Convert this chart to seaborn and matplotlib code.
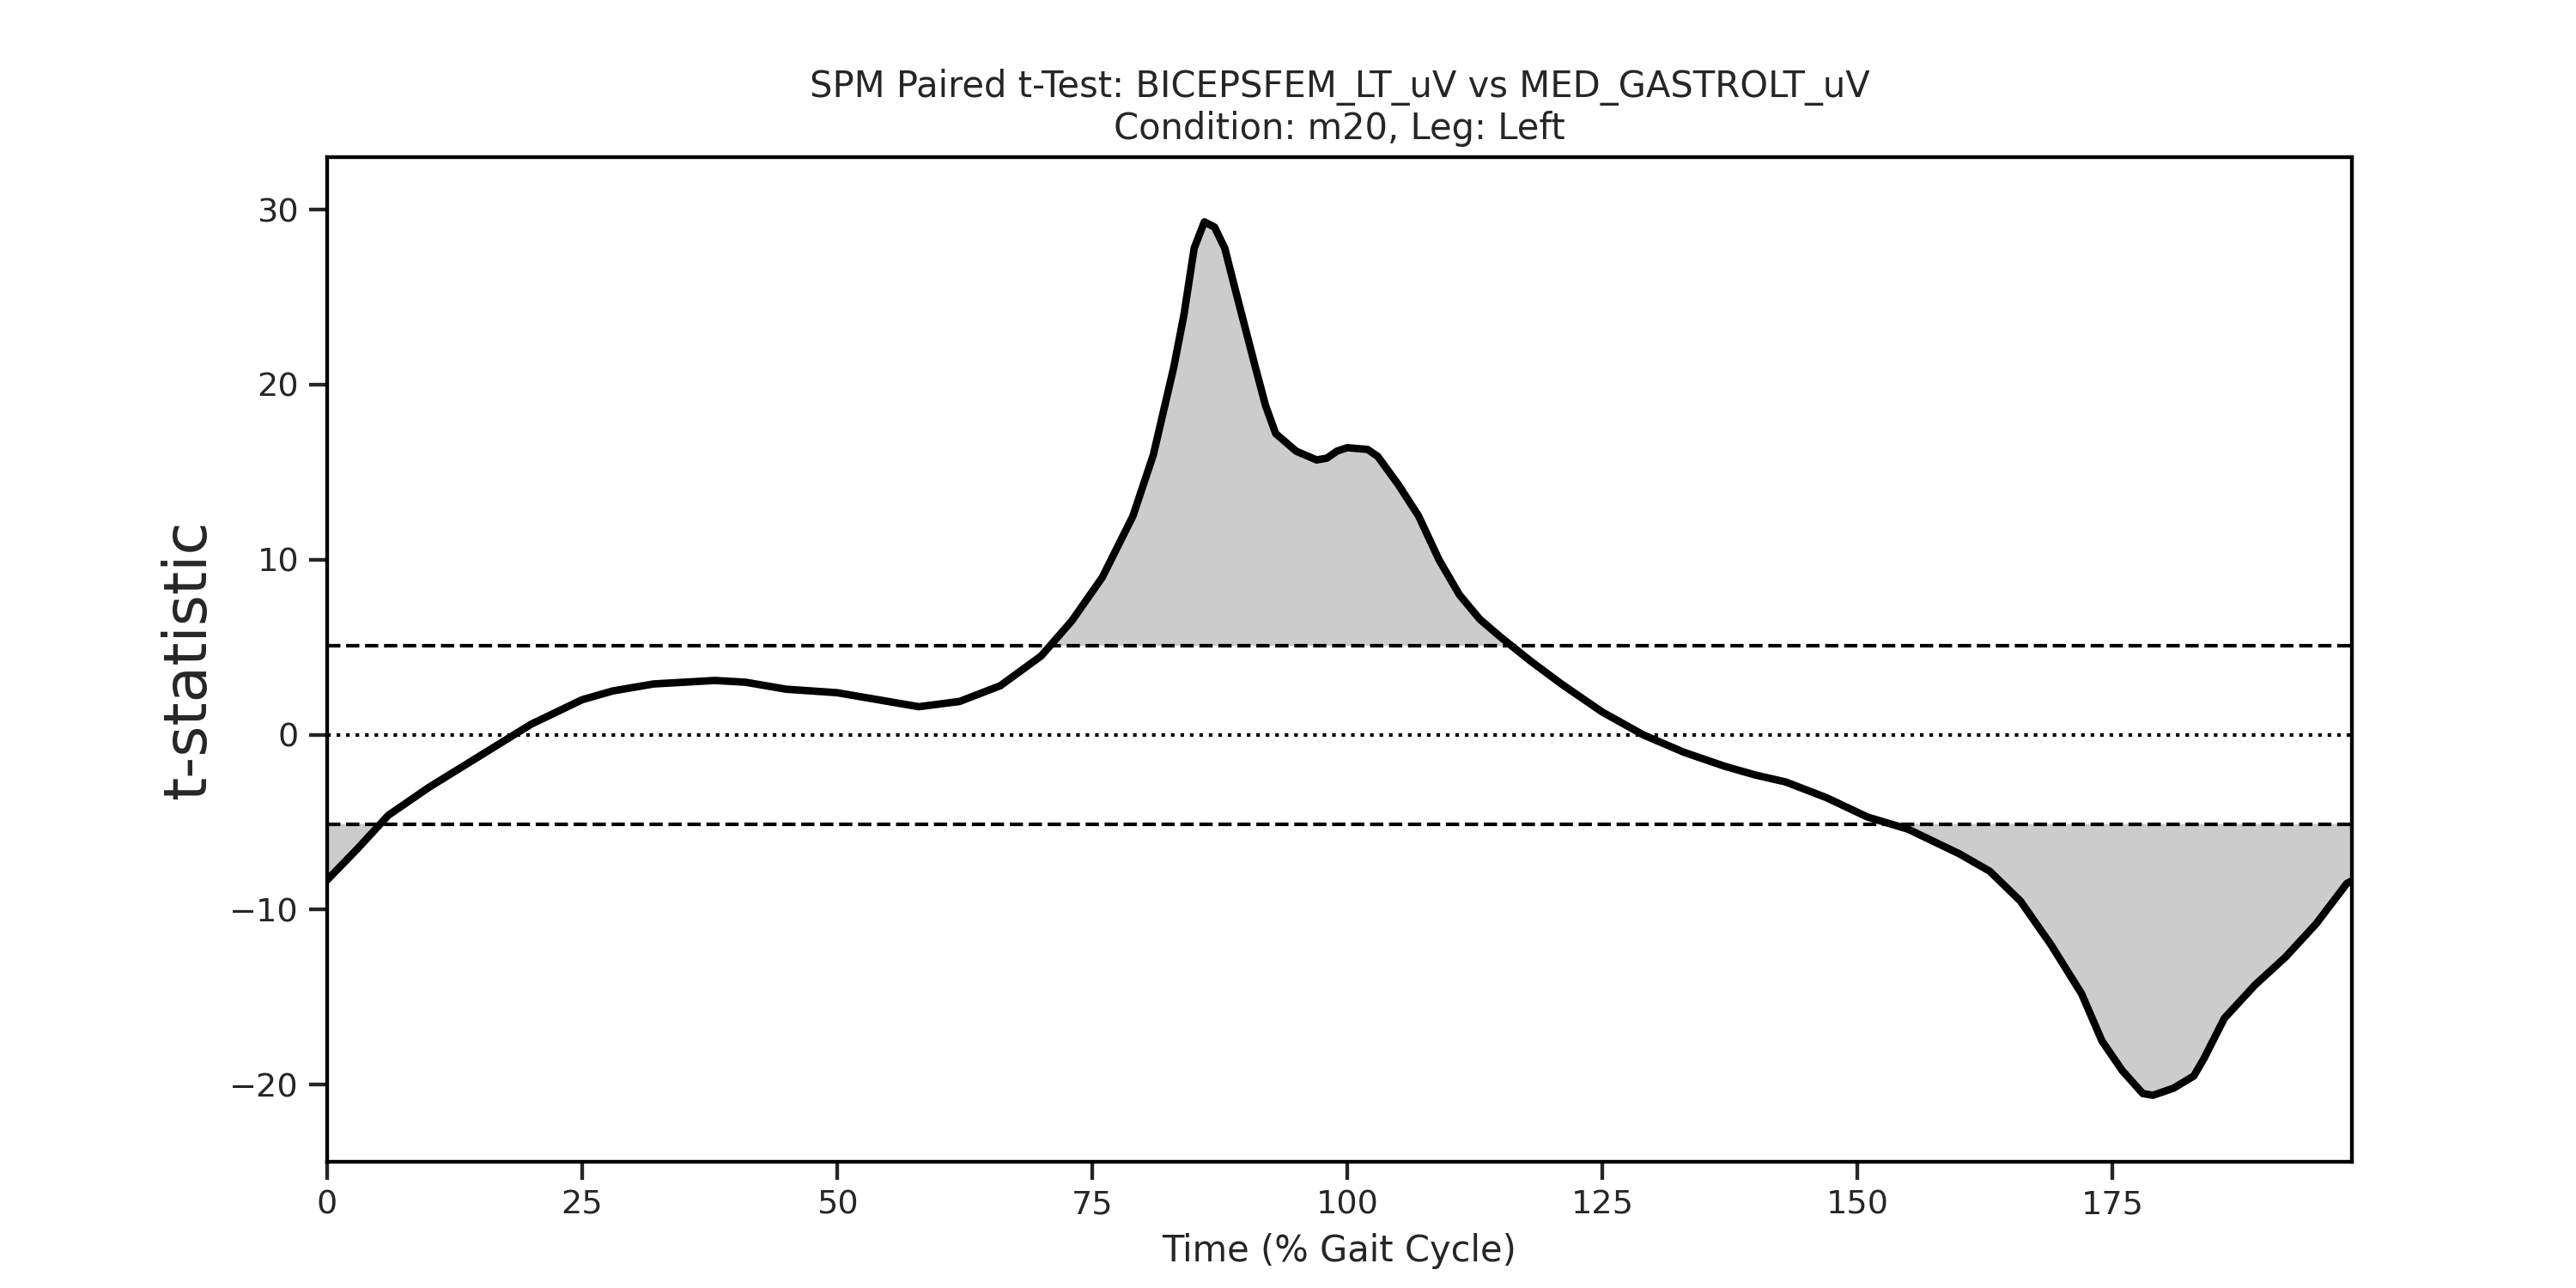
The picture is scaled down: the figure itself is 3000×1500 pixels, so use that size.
import numpy as np
import matplotlib.pyplot as plt
import seaborn as sns

# ── Données ──────────────────────────────────────────────────────────────────
time_pts = [0, 3, 6, 10, 15, 20, 25, 28, 32, 38, 41, 45, 50, 55, 58, 62, 66, 70,
            73, 76, 79, 81, 83, 84, 85, 86, 87, 88, 89, 91, 92, 93, 95, 97, 98,
            99, 100, 102, 103, 105, 107, 109, 111, 113, 115, 118, 121, 125, 129,
            133, 137, 140, 143, 147, 151, 155, 160, 163, 166, 169, 172, 174, 176,
            178, 179, 181, 183, 184, 186, 189, 192, 195, 198, 199]
t_stat = [-8.3, -6.5, -4.6, -3.0, -1.2, 0.6, 2.0, 2.5, 2.9, 3.1, 3.0, 2.6, 2.4,
          1.9, 1.6, 1.9, 2.8, 4.5, 6.5, 9.0, 12.5, 16.0, 21.0, 24.0, 27.8, 29.3,
          29.0, 27.8, 25.5, 21.0, 18.8, 17.2, 16.2, 15.7, 15.8, 16.2, 16.4, 16.3,
          15.9, 14.3, 12.5, 10.0, 8.0, 6.6, 5.6, 4.2, 2.9, 1.3, 0.0, -1.0, -1.8,
          -2.3, -2.7, -3.6, -4.7, -5.4, -6.8, -7.8, -9.5, -12.0, -14.8, -17.5,
          -19.2, -20.5, -20.6, -20.2, -19.5, -18.5, -16.2, -14.3, -12.7, -10.8,
          -8.5, -8.2]
t_crit = 5.1

sns.set_theme(style="ticks")
plt.rcParams["font.family"] = ["DejaVu Sans"]

# courbe fine pour le remplissage au seuil
x = np.linspace(0, 199, 2000)
y = np.interp(x, time_pts, t_stat)

fig, ax = plt.subplots(figsize=(12, 6), dpi=250)
fig.subplots_adjust(left=0.127, right=0.913, top=0.878, bottom=0.098)

sns.lineplot(x=time_pts, y=t_stat, color="black", linewidth=2.5, ax=ax)
ax.fill_between(x, t_crit, y, where=y > t_crit, color="#cccccc", linewidth=0)
ax.fill_between(x, -t_crit, y, where=y < -t_crit, color="#cccccc", linewidth=0)
ax.axhline(t_crit, color="black", linestyle="--", linewidth=1.2)
ax.axhline(-t_crit, color="black", linestyle="--", linewidth=1.2)
ax.axhline(0, color="black", linestyle=":", linewidth=1.2)

ax.set_xlim(0, 198.5)
ax.set_ylim(-24.4, 33)
ax.set_xticks([0, 25, 50, 75, 100, 125, 150, 175])
ax.set_yticks([-20, -10, 0, 10, 20, 30])
ax.set_xlabel("Time (% Gait Cycle)")
ax.set_ylabel("t-statistic", fontsize=20)
ax.set_title("SPM Paired t-Test: BICEPSFEM_LT_uV vs MED_GASTROLT_uV\nCondition: m20, Leg: Left")
for s in ax.spines.values():
    s.set_visible(True)
    s.set_color("black")

fig.savefig("out.png", dpi=250)
plt.close(fig)
